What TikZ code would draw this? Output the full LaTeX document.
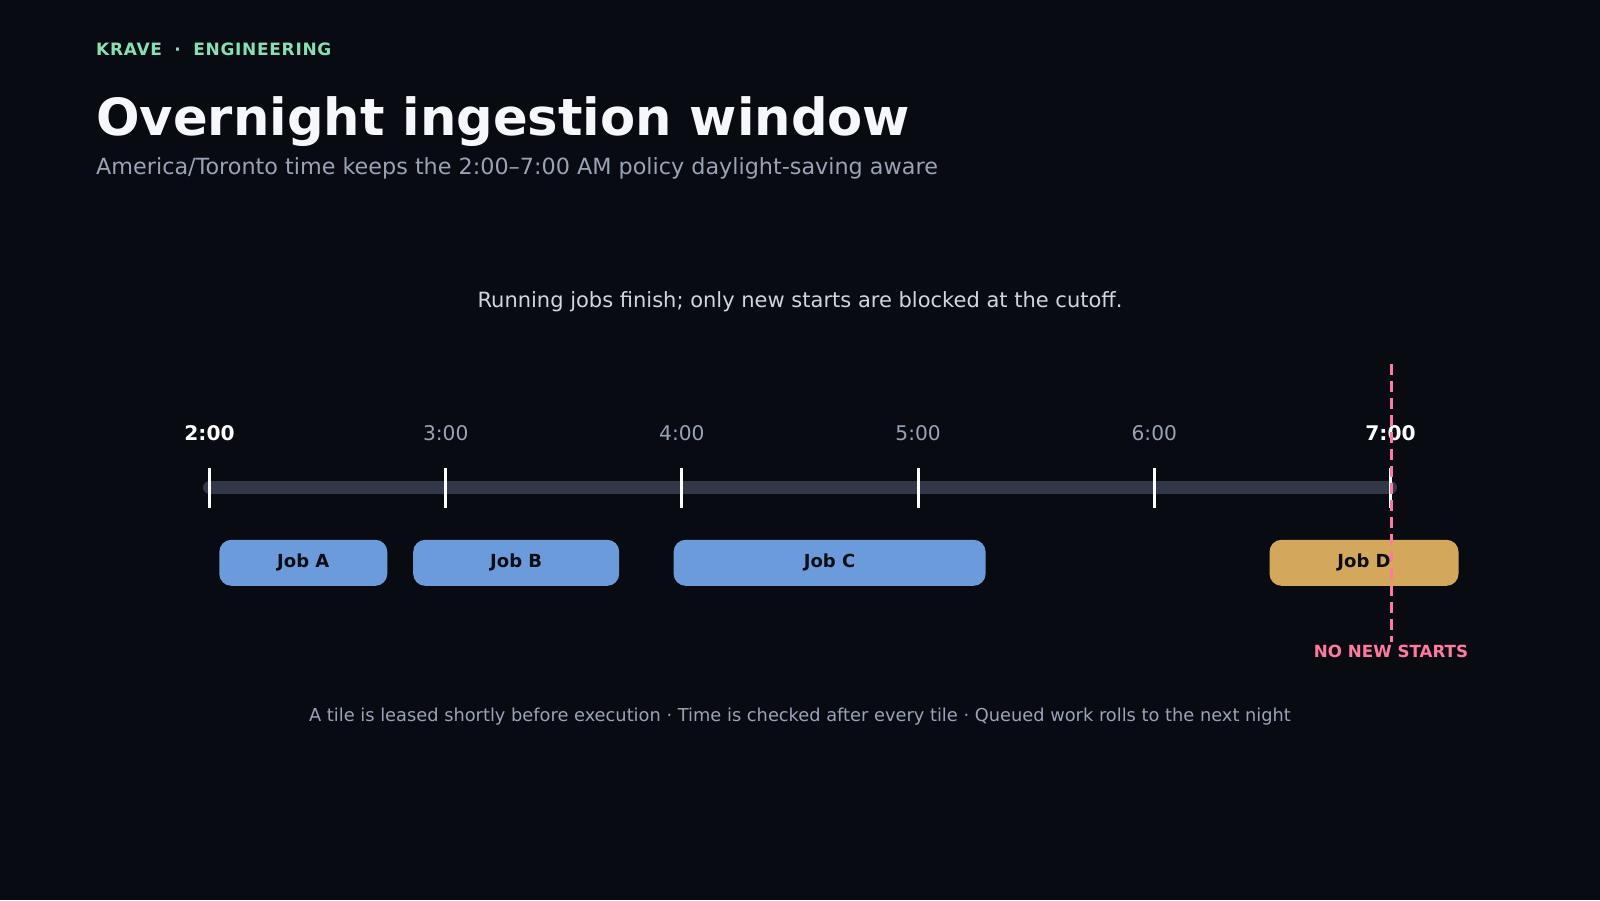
\documentclass[tikz,border=0pt]{standalone}
\usepackage{fontspec}
\setmainfont{DejaVu Sans}
\newfontfamily\kicker[LetterSpace=4]{DejaVu Sans}
\definecolor{bg}{HTML}{080B12}
\definecolor{track}{HTML}{323848}
\definecolor{jobblue}{HTML}{6C9BDC}
\definecolor{jobgold}{HTML}{D4A85C}
\definecolor{cutpink}{HTML}{FF7A9E}
\definecolor{kickgreen}{HTML}{86E0B5}
\definecolor{titlewhite}{HTML}{F5F7FB}
\definecolor{mutedgray}{HTML}{9AA3B5}
\definecolor{lightgray}{HTML}{D0D5DE}
\definecolor{jobtext}{HTML}{0B0D14}
\newcommand{\fsz}[1]{\fontsize{#1}{#1}\selectfont}
\tikzset{
  hourlbl/.style={text=mutedgray, font=\fsz{20.2}, anchor=base, inner sep=0pt},
  hourbold/.style={text=white, font=\fsz{20.2}\bfseries, anchor=base, inner sep=0pt},
  tickmark/.style={draw=white, line width=3pt},
  jobbox/.style={rounded corners=12pt, minimum height=46pt, inner sep=0pt,
    text=jobtext, font=\fsz{18}\bfseries},
}
\begin{document}
\begin{tikzpicture}[x=1pt,y=-1pt]
\fill[bg] (0,0) rectangle (1600,900);
\useasboundingbox (0,0) rectangle (1600,900);
% header
\node[anchor=base west, inner sep=0pt, text=kickgreen, font=\kicker\fsz{17}\bfseries] (kick) at (96,55) {KRAVE\hspace{12.5pt}·\hspace{12.5pt}ENGINEERING};
\node[anchor=base west, inner sep=0pt, text=titlewhite, font=\fsz{51.2}\bfseries] (title) at (96,135) {Overnight ingestion window};
\node[anchor=base west, inner sep=0pt, text=mutedgray, font=\fsz{22.3}] (sub) at (96,174.5) {America/Toronto time keeps the 2:00–7:00 AM policy daylight-saving aware};
\node[anchor=base, inner sep=0pt, text=lightgray, font=\fsz{21}] (cap) at (800,307) {Running jobs finish; only new starts are blocked at the cutoff.};
% track
\coordinate (t0) at (209.5,487.5);
\coordinate (t5) at (1390.5,487.5);
\draw[track, line width=13pt, line cap=round] (t0) -- (t5);
% ticks and labels
\foreach \i/\lab/\sty in {0/2:00/hourbold,1/3:00/hourlbl,2/4:00/hourlbl,3/5:00/hourlbl,4/6:00/hourlbl,5/7:00/hourbold}{
  \coordinate (tk\i) at ({209.5+236.2*\i},468);
  \coordinate (tb\i) at ({209.5+236.2*\i},508);
  \draw[tickmark] (tk\i) -- (tb\i);
  \node[\sty] (h\i) at ({209.5+236.2*\i},440) {\lab};
}
% jobs
\node[jobbox, fill=jobblue, minimum width=168pt] (jobA) at (303.3,562.8) {Job A};
\node[jobbox, fill=jobblue, minimum width=206pt] (jobB) at (516.2,562.8) {Job B};
\node[jobbox, fill=jobblue, minimum width=312pt] (jobC) at (829.6,562.8) {Job C};
\node[jobbox, fill=jobgold, minimum width=189pt] (jobD) at (1364,562.8) {Job D};
% cutoff
\coordinate (cutTop) at (1391,364);
\coordinate (cutBot) at (1391,642);
\draw[cutpink, line width=3pt, dash pattern=on 11pt off 6pt] (cutTop) -- (cutBot);
\node[anchor=base, inner sep=0pt, text=cutpink, font=\fsz{16.7}\bfseries] (nns) at (1391,657) {NO NEW STARTS};
% footer
\node[anchor=base, inner sep=0pt, text=mutedgray, font=\fsz{17.8}] (foot) at (800,721) {A tile is leased shortly before execution · Time is checked after every tile · Queued work rolls to the next night};
\end{tikzpicture}
\end{document}
